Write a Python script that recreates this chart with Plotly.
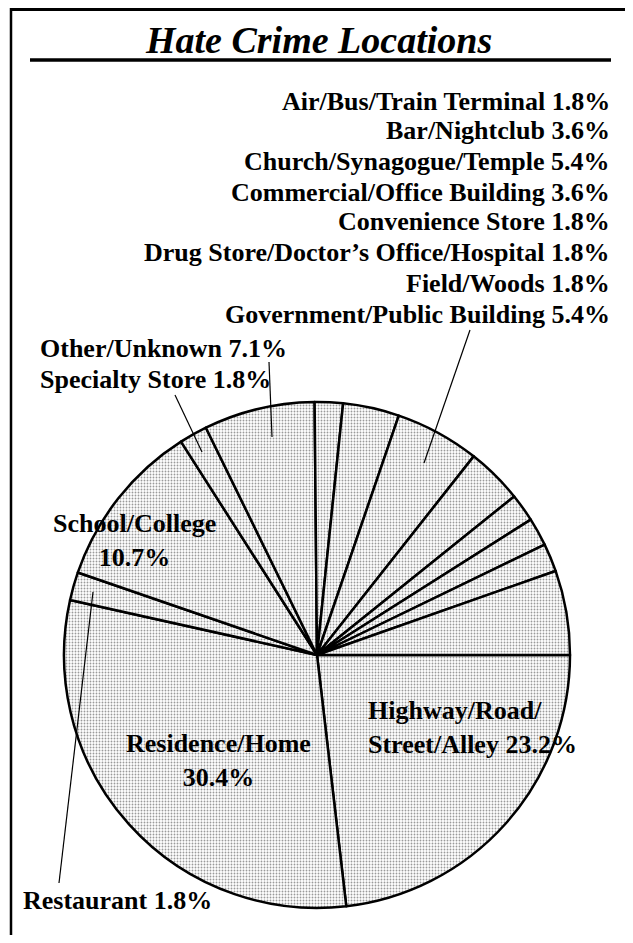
import plotly.graph_objects as go

# Data (clockwise from 3 o'clock)
locations = [
    "Highway/Road/Street/Alley", "Residence/Home", "Restaurant", "School/College",
    "Specialty Store", "Other/Unknown", "Air/Bus/Train Terminal", "Bar/Nightclub",
    "Church/Synagogue/Temple", "Commercial/Office Building", "Convenience Store",
    "Drug Store/Doctor\u2019s Office/Hospital", "Field/Woods", "Government/Public Building",
]
percents = [23.2, 30.4, 1.8, 10.7, 1.8, 7.1, 1.8, 3.6, 5.4, 3.6, 1.8, 1.8, 1.8, 5.4]

OFF = 8  # page body margin offset
W, H = 633 - 2 * OFF, 943 - 2 * OFF
FONT = "Liberation Serif, Times New Roman, serif"

def px(x):
    return (x - OFF) / W

def py(y):
    return 1 - (y - OFF) / H

fig = go.Figure()
fig.add_trace(go.Pie(
    labels=locations,
    values=percents,
    sort=False,
    direction="clockwise",
    rotation=90,
    textinfo="none",
    hoverinfo="skip",
    showlegend=False,
    marker=dict(
        colors=["white"] * len(percents),
        line=dict(color="black", width=2.5),
        pattern=dict(shape=".", fgcolor="#9a9a9a", bgcolor="white", size=3, solidity=0.3),
    ),
    domain=dict(x=[px(64), px(570)], y=[py(908), py(402)]),
))

annotations = []

def lab(text, x, y, anchor="center", align="center"):
    annotations.append(dict(
        text=text, x=px(x), y=py(y), xref="paper", yref="paper",
        xanchor=anchor, yanchor="middle", align=align, showarrow=False,
        font=dict(family=FONT, size=26, color="black"),
    ))

def fmt(name, v):
    return f"<b>{name} {v}%</b>"

# right-side stacked labels
right_idx = list(range(6, 14))
ys = [101, 131, 161, 192, 222, 253, 283, 314]
for i, y in zip(right_idx, ys):
    lab(fmt(locations[i], percents[i]), 612, y, anchor="right", align="right")

lab(fmt(locations[5], percents[5]), 38, 348, anchor="left", align="left")
lab(fmt(locations[4], percents[4]), 38, 379, anchor="left", align="left")
lab(f"<b>{locations[3]}<br>{percents[3]}%</b>", 134, 540)
lab(f"<b>Highway/Road/<br>Street/Alley {percents[0]}%</b>", 366, 727, anchor="left", align="left")
lab(f"<b>{locations[1]}<br>{percents[1]}%</b>", 218, 760)
lab(fmt(locations[2], percents[2]), 21, 900, anchor="left", align="left")

# title
annotations.append(dict(
    text="<b><i>Hate Crime Locations</i></b>", x=px(318), y=py(40), xref="paper", yref="paper",
    xanchor="center", yanchor="middle", showarrow=False,
    font=dict(family=FONT, size=38, color="black"),
))

shapes = []
def seg(x0, y0, x1, y1, w=1.2):
    shapes.append(dict(type="line", xref="paper", yref="paper",
                       x0=px(x0), y0=py(y0), x1=px(x1), y1=py(y1),
                       line=dict(color="black", width=w)))

# frame and title underline
seg(10, 9.5, OFF + W, 9.5, 3)
seg(11, 8, 11, OFF + H, 2.5)
seg(30, 60, 611, 60, 3.5)
# leader lines
seg(470, 330, 424, 463)
seg(269, 362, 272, 437)
seg(175, 395, 202, 452)
seg(93, 592, 59, 883)

fig.update_layout(
    width=W, height=H,
    margin=dict(l=0, r=0, t=0, b=0),
    paper_bgcolor="white", plot_bgcolor="white",
    annotations=annotations, shapes=shapes,
)
fig.write_html("out.html")
